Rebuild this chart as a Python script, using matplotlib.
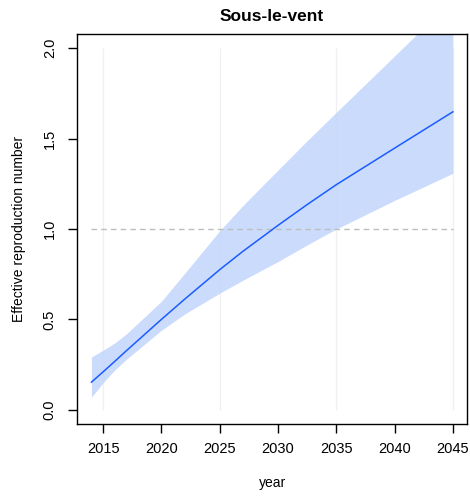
import matplotlib
matplotlib.use("Agg")
import matplotlib.pyplot as plt

plt.rcParams['font.family'] = ['Liberation Sans', 'DejaVu Sans']

title = "Sous-le-vent"
xlabel = "year"
ylabel = "Effective reproduction number"

years = [2014, 2015, 2016, 2017, 2020, 2022, 2025, 2027, 2030, 2032.5, 2035, 2040, 2045]
r_mean = [0.153, 0.21, 0.268, 0.327, 0.50, 0.612, 0.775, 0.877, 1.02, 1.135, 1.245, 1.447, 1.648]
r_upper = [0.292, 0.33, 0.37, 0.42, 0.60, 0.755, 0.99, 1.13, 1.326, 1.488, 1.645, 1.957, 2.27]
r_lower = [0.07, 0.15, 0.22, 0.28, 0.44, 0.53, 0.645, 0.717, 0.82, 0.912, 1.0, 1.158, 1.308]

xticks = [2015, 2020, 2025, 2030, 2035, 2040, 2045]
grid_years = [2015, 2025, 2035, 2045]
yticks = [0.0, 0.5, 1.0, 1.5, 2.0]
threshold = 1.0

fig = plt.figure(figsize=(4.7, 5.0), dpi=100)
ax = fig.add_axes([0.1638, 0.1514, 0.8305, 0.7812])

ax.vlines(grid_years, 0, 2, colors='#F0F0F0', linewidth=1.0, zorder=1)
ax.fill_between(years, r_lower, r_upper, color='#C4D6FC', alpha=0.88, linewidth=0, zorder=2)
ax.hlines(threshold, years[0], years[-1], colors='#BDBDBD', linestyles=(0, (4, 3)),
          linewidth=1.0, zorder=3)
ax.plot(years, r_mean, color='#1A5CFF', linewidth=1.1, zorder=4)

ax.set_xlim(2012.76, 2046.24)
ax.set_ylim(-0.08, 2.08)
ax.set_xticks(xticks)
ax.set_xticklabels([str(x) for x in xticks])
ax.set_yticks(yticks)
ax.set_yticklabels([f"{y:.1f}" for y in yticks], rotation=90, va='center')

ax.tick_params(axis='both', direction='out', length=6.5, width=1.0, labelsize=10.5,
               color='black')
ax.tick_params(axis='x', pad=6.5)
ax.tick_params(axis='y', pad=8)
for s in ax.spines.values():
    s.set_linewidth(1.0)
    s.set_color('black')

ax.set_title(title, fontsize=12.5, fontweight='bold', pad=9)
ax.set_xlabel(xlabel, fontsize=10, labelpad=14)
ax.set_ylabel(ylabel, fontsize=10, labelpad=12)

fig.savefig("out.png", dpi=100)
